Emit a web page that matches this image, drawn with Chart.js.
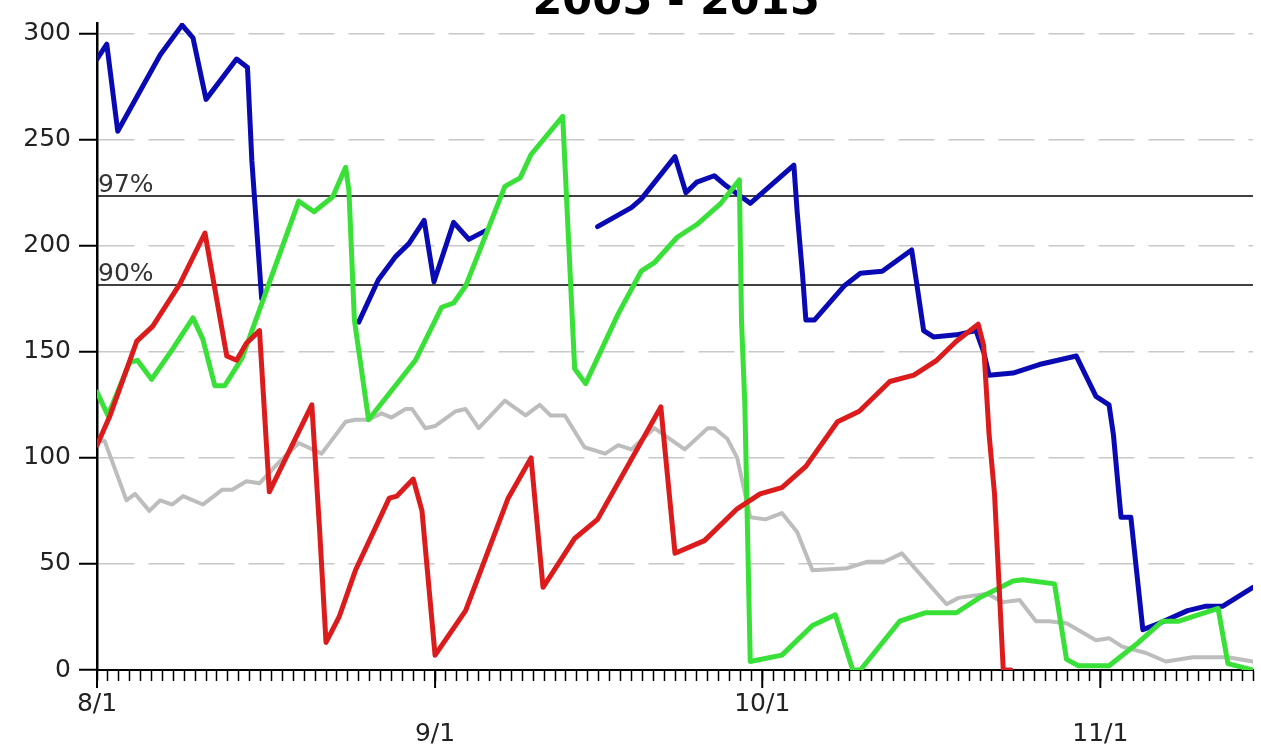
<!DOCTYPE html>
<html>
<head>
<meta charset="utf-8">
<script src="https://cdn.jsdelivr.net/npm/chart.js@4.4.1/dist/chart.umd.min.js"></script>
<style>
  html, body { margin: 0; padding: 0; background: #fff; overflow: hidden; }
</style>
</head>
<body>
<canvas id="chart" width="1261" height="752"></canvas>
<script>
const titleText = '2005 - 2015';

// x is days since 8/1
const monthDays = [0, 31, 61, 92];
const monthLabels = ['8/1', '9/1', '10/1', '11/1'];
const monthRow = [0, 1, 0, 1]; // 9/1 and 11/1 sit on the lower row

const refLevels = [223.5, 181.5];
const refLabels = ['97%', '90%'];

// null = no data (gap in the line)
const blueDays = [0, 0.9, 1.9, 5.8, 7.8, 8.8, 10, 12.8, 13.8, 14.2, 15.1, 20,
  24, 25.8, 27.4, 28.6, 30, 30.9, 32.7, 34.1, 35.6, 40,
  45.9, 49, 49.9, 53, 54, 55, 56.6, 57.5, 59.9, 63.9, 64.2, 64.7, 65, 65.8,
  68.5, 70, 72, 74.7, 75.2, 75.8, 76.7, 78.8, 80.6, 81.3, 81.8, 84, 86.4,
  89.8, 91.6, 92.8, 93.2, 93.7, 93.9, 94.8, 95.9, 97.4, 100, 101.6, 103.2, 106];
const blueVals = [288, 295, 254, 290, 304, 298, 269, 288, 284, 240, 175, null,
  164, 184, 195, 201, 212, 183, 211, 203, 207, null,
  209, 218, 222, 242, 225, 230, 233, 229, 220, 238, 216, 186, 165, 165,
  181, 187, 188, 198, 181, 160, 157, 158, 160, 150, 139, 140, 144,
  148, 129, 125, 111, 83, 72, 72, 19, 22, 28, 30, 30, 39];

const redDays = [0, 1.2, 3.65, 5.1, 7.6, 9.9, 11, 11.9, 12.8, 13.7, 14.9, 15.8,
  19.7, 20.4, 21, 22.2, 23.7, 26.8, 27.5, 29, 29.8, 31, 33.8, 37.7, 39.8,
  40.9, 43.8, 45.9, 51.7, 53, 55.7, 58.7, 60.8, 62.8, 65, 67.9, 69.9, 72.7,
  74.9, 77, 78.8, 80.8, 81.3, 81.8, 82.3, 83.1, 83.8];
const redVals = [106, 120, 155, 162, 182, 206, 174, 148, 146, 154, 160, 84,
  125, 67, 13, 25, 47, 81, 82, 90, 75, 7, 28, 81, 100,
  39, 62, 71, 124, 55, 61, 76, 83, 86, 96, 117, 122, 136,
  139, 146, 155, 163, 153, 111, 83, 0, 0];

const greenDays = [0, 1, 3, 3.7, 5, 6.9, 8.8, 9.7, 10.8, 11.7, 13.3, 18.5, 19.9,
  21.6, 22.8, 23.1, 23.6, 24.9, 29.2, 31.6, 32.7, 33.8, 37.4, 38.8, 39.8,
  42.7, 43.8, 44.8, 47.8, 49.9, 51.1, 53.2, 55, 57.2, 58.9, 59.1, 59.4, 59.9,
  62.8, 65.6, 67.7, 69.3, 70, 73.6, 76, 78.8, 80.9, 84, 84.9, 87.8, 88.9, 90,
  92.8, 95.5, 97.7, 99.2, 102.8, 103.7, 106];
const greenVals = [131, 120, 145, 146, 137, 151, 166, 156, 134, 134, 147, 221, 216,
  223, 237, 226, 165, 118, 146, 171, 173, 181, 228, 232, 243,
  261, 142, 135, 168, 188, 192, 204, 210, 220, 231, 164, 126, 4,
  7, 21, 26, 0, 0, 23, 27, 27, 34, 42, 42.5, 40.6, 5, 2,
  2, 13, 23, 23, 29, 3, 0];

const grayDays = [0, 0.7, 2.7, 3.5, 4.8, 5.8, 6.9, 7.9, 9.7, 11.5, 12.4, 13.7,
  14.9, 16.7, 18.5, 20.6, 22.8, 23.7, 24.9, 26.1, 27, 28.3, 28.9, 30.1, 31,
  32.9, 33.8, 35, 37.4, 39.3, 40.6, 41.6, 42.9, 44.7, 46.6, 47.8, 49, 51.1,
  53.9, 56, 56.6, 57.8, 58.7, 59.9, 61.3, 62.8, 64.2, 65.6, 68.8, 70.6, 72.2,
  73.8, 77.9, 79, 81.6, 83.1, 84.6, 86.1, 87.3, 88.9, 91.6, 92.8, 94, 96.2,
  98, 100.5, 102, 103.7, 106];
const grayVals = [108, 108, 80, 83, 75, 80, 78, 82, 78, 85, 85, 89,
  88, 98, 107, 102, 117, 118, 118, 121, 119, 123, 123, 114, 115,
  122, 123, 114, 127, 120, 125, 120, 120, 105, 102, 106, 104, 114,
  104, 114, 114, 109, 100, 72, 71, 74, 65, 47, 48, 51, 51,
  55, 31, 34, 36, 32, 33, 23, 23, 22, 14, 15, 11, 8,
  4, 6, 6, 6, 4];

const pts = (days, vals) => days.map((d, i) => ({ x: d, y: vals[i] }));
const flat = v => [{ x: 0, y: v }, { x: 106, y: v }];

// title, percentile labels, long month ticks
const extras = {
  id: 'extras',
  afterDraw(chart) {
    const { ctx, chartArea, scales: { x, y } } = chart;
    ctx.save();
    ctx.strokeStyle = '#000';
    ctx.lineWidth = 2;
    monthDays.forEach(d => {
      const px = x.getPixelForValue(d);
      ctx.beginPath();
      ctx.moveTo(px, chartArea.bottom);
      ctx.lineTo(px, chartArea.bottom + 18);
      ctx.stroke();
    });
    ctx.fillStyle = '#333';
    ctx.font = '25px "DejaVu Sans"';
    ctx.textAlign = 'left';
    ctx.textBaseline = 'alphabetic';
    refLevels.forEach((v, i) => {
      ctx.fillText(refLabels[i], chartArea.left + 1, y.getPixelForValue(v) - 4);
    });
    ctx.fillStyle = '#000';
    ctx.font = 'bold 43px "DejaVu Sans"';
    ctx.textAlign = 'center';
    ctx.fillText(titleText, 676, 14);
    ctx.restore();
  }
};

const axisFont = { family: 'DejaVu Sans', size: 25, lineHeight: 1.2 };

new Chart(document.getElementById('chart'), {
  type: 'line',
  data: {
    datasets: [
      { data: pts(redDays, redVals), borderColor: '#dc1c1c', borderWidth: 5 },
      { data: pts(greenDays, greenVals), borderColor: '#38e038', borderWidth: 5 },
      { data: pts(blueDays, blueVals), borderColor: '#0a0ab4', borderWidth: 5 },
      { data: pts(grayDays, grayVals), borderColor: '#bdbdbd', borderWidth: 4 },
      { data: flat(refLevels[0]), borderColor: '#000', borderWidth: 1.5 },
      { data: flat(refLevels[1]), borderColor: '#000', borderWidth: 1.5 }
    ]
  },
  plugins: [extras],
  options: {
    responsive: false,
    animation: false,
    devicePixelRatio: 1,
    spanGaps: false,
    elements: {
      point: { radius: 0 },
      line: { tension: 0, borderJoinStyle: 'round', borderCapStyle: 'round', fill: false }
    },
    layout: { padding: { top: 18, right: 2, left: 0, bottom: 0 } },
    plugins: { legend: { display: false }, tooltip: { enabled: false } },
    scales: {
      x: {
        type: 'linear',
        min: 0,
        max: 106,
        ticks: {
          stepSize: 1,
          autoSkip: false,
          maxRotation: 0,
          minRotation: 0,
          padding: 8,
          color: '#222',
          font: axisFont,
          callback: v => {
            const i = monthDays.indexOf(v);
            if (i < 0) return '';
            return monthRow[i] ? ['', monthLabels[i]] : monthLabels[i];
          }
        },
        grid: { drawOnChartArea: false, tickLength: 11, tickColor: '#000', tickWidth: 1.5 },
        border: { color: '#000', width: 2 },
        afterFit: s => { s.height = 82; }
      },
      y: {
        min: 0,
        max: 305,
        ticks: { stepSize: 50, includeBounds: false, padding: 8, color: '#222', font: axisFont },
        grid: {
          color: c => (c.tick && c.tick.value === 0 ? 'rgba(0,0,0,0)' : '#c8c8c8'),
          lineWidth: 1.5,
          tickLength: 18,
          tickColor: '#000',
          tickWidth: 2,
          tickBorderDash: []
        },
        border: { color: '#000', width: 2.5, dash: [36, 14] },
        afterFit: s => { s.width = 97; }
      }
    }
  }
});
</script>
</body>
</html>
